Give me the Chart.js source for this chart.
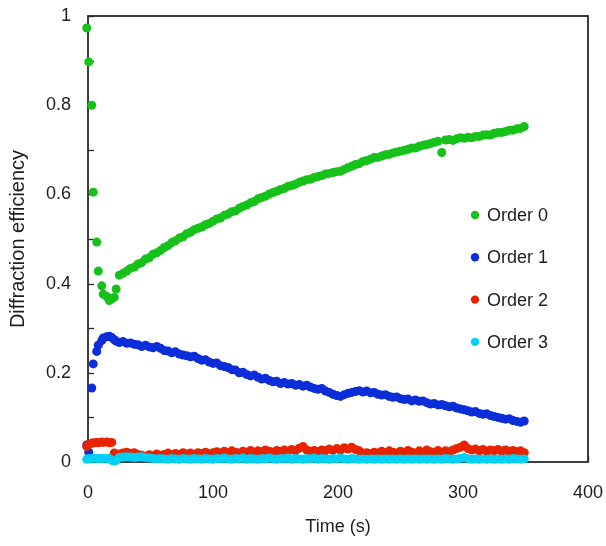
<!DOCTYPE html>
<html>
<head>
<meta charset="utf-8">
<script src="https://cdn.jsdelivr.net/npm/chart.js@4.4.1/dist/chart.umd.min.js"></script>
<style>
  html, body { margin: 0; padding: 0; background: #ffffff; }
  #wrap { width: 606px; height: 546px; position: relative; }
</style>
</head>
<body>
<div id="wrap"><canvas id="c" width="606" height="546"></canvas></div>
<script>
// ---- Data ----
const seriesNames = ["Order 0", "Order 1", "Order 2", "Order 3"];
const seriesColors = ["#16c21a", "#0b2ed8", "#e82400", "#00d0f4"];

// early, densely sampled times (s)
const earlyTime = [-1, 0.6, 3, 4.2, 7, 8.2, 11, 12.2, 15, 17, 19, 21, 22.5];
const order0Early = [0.973, 0.897, 0.800, 0.605, 0.493, 0.428, 0.395, 0.376, 0.371, 0.362, 0.366, 0.369, 0.388];
const order1Early = [0.038, 0.022, 0.166, 0.220, 0.248, 0.262, 0.272, 0.278, 0.281, 0.282, 0.279, 0.274, 0.271];
const order2Early = [0.035, 0.040, 0.042, 0.043, 0.044, 0.043, 0.045, 0.044, 0.045, 0.043, 0.044, 0.020, 0.018];
const order3Early = [0.006, 0.008, 0.008, 0.008, 0.008, 0.008, 0.008, 0.008, 0.008, 0.008, 0.004, 0.002, 0.003];

// main times (s)
const time = [
  25,28,31,34,37,40,43,46,49,52,
  55,58,61,64,67,70,73,76,79,82,
  85,88,91,94,97,100,103,106,109,112,
  115,118,121,124,127,130,133,136,139,142,
  145,148,151,154,157,160,163,166,169,172,
  175,178,181,184,187,190,193,196,199,202,
  205,208,211,214,217,220,223,226,229,232,
  235,238,241,244,247,250,253,256,259,262,
  265,268,271,274,277,280,283,286,289,292,
  295,298,301,304,307,310,313,316,319,322,
  325,328,331,334,337,340,343,346,349
];
const order0 = [
  0.419,0.423,0.428,0.434,0.437,0.444,0.447,0.455,0.458,0.466,
  0.469,0.474,0.481,0.485,0.492,0.496,0.502,0.505,0.512,0.515,
  0.521,0.524,0.527,0.532,0.535,0.540,0.545,0.547,0.553,0.556,
  0.561,0.563,0.569,0.573,0.576,0.581,0.584,0.590,0.593,0.596,
  0.601,0.604,0.607,0.611,0.613,0.618,0.620,0.623,0.627,0.630,
  0.633,0.634,0.638,0.640,0.642,0.646,0.647,0.649,0.651,0.652,
  0.656,0.660,0.663,0.667,0.669,0.674,0.676,0.679,0.683,0.683,
  0.686,0.689,0.690,0.693,0.695,0.697,0.699,0.701,0.704,0.704,
  0.708,0.710,0.712,0.714,0.717,0.719,0.694,0.722,0.723,0.721,
  0.725,0.727,0.726,0.728,0.727,0.730,0.730,0.733,0.734,0.733,
  0.737,0.739,0.739,0.741,0.744,0.744,0.747,0.748,0.752
];
const order1 = [
  0.268,0.270,0.266,0.267,0.264,0.263,0.259,0.262,0.258,0.256,
  0.259,0.255,0.250,0.249,0.245,0.247,0.242,0.240,0.238,0.236,
  0.237,0.232,0.228,0.229,0.224,0.221,0.222,0.216,0.214,0.212,
  0.207,0.206,0.200,0.201,0.196,0.193,0.195,0.190,0.186,0.188,
  0.183,0.180,0.181,0.176,0.178,0.175,0.176,0.172,0.174,0.170,
  0.172,0.168,0.165,0.163,0.165,0.159,0.156,0.152,0.149,0.147,
  0.151,0.154,0.156,0.158,0.160,0.157,0.159,0.155,0.156,0.152,
  0.150,0.151,0.147,0.145,0.146,0.142,0.140,0.141,0.137,0.139,
  0.136,0.137,0.133,0.130,0.131,0.128,0.129,0.126,0.124,0.125,
  0.121,0.119,0.117,0.115,0.112,0.113,0.109,0.107,0.108,0.104,
  0.102,0.100,0.098,0.096,0.097,0.093,0.091,0.089,0.092
];
const order2 = [
  0.018,0.020,0.022,0.019,0.021,0.017,0.015,0.013,0.016,0.014,
  0.018,0.015,0.017,0.020,0.016,0.019,0.017,0.021,0.018,0.020,
  0.017,0.021,0.019,0.022,0.018,0.021,0.023,0.020,0.024,0.021,
  0.025,0.022,0.020,0.024,0.021,0.026,0.022,0.025,0.023,0.027,
  0.024,0.022,0.026,0.023,0.027,0.024,0.028,0.025,0.031,0.035,
  0.027,0.024,0.026,0.023,0.027,0.025,0.029,0.026,0.030,0.027,
  0.032,0.029,0.033,0.028,0.025,0.020,0.021,0.019,0.022,0.020,
  0.024,0.021,0.025,0.022,0.020,0.024,0.021,0.026,0.022,0.020,
  0.025,0.022,0.027,0.023,0.021,0.026,0.022,0.025,0.023,0.027,
  0.030,0.033,0.038,0.030,0.027,0.029,0.025,0.028,0.024,0.027,
  0.025,0.028,0.024,0.027,0.024,0.026,0.023,0.025,0.021
];
const order3 = [
  0.010,0.011,0.012,0.011,0.010,0.011,0.012,0.010,0.009,0.008,
  0.007,0.008,0.007,0.006,0.008,0.007,0.006,0.008,0.007,0.006,
  0.008,0.007,0.006,0.008,0.007,0.006,0.008,0.007,0.009,0.007,
  0.006,0.008,0.007,0.009,0.006,0.008,0.007,0.006,0.008,0.007,
  0.009,0.007,0.006,0.008,0.007,0.009,0.006,0.008,0.007,0.006,
  0.008,0.007,0.009,0.006,0.008,0.007,0.006,0.008,0.007,0.009,
  0.007,0.006,0.008,0.007,0.006,0.007,0.006,0.007,0.006,0.007,
  0.006,0.007,0.006,0.007,0.006,0.007,0.006,0.007,0.006,0.007,
  0.006,0.007,0.006,0.007,0.006,0.007,0.006,0.008,0.007,0.006,
  0.007,0.008,0.010,0.007,0.006,0.007,0.006,0.007,0.006,0.007,
  0.006,0.007,0.006,0.007,0.006,0.008,0.007,0.006,0.007
];

const yTickMarks = [0, 0.1, 0.2, 0.3, 0.4, 0.5, 0.6, 0.7, 0.8, 0.9, 1];
const xTickMarks = [0, 100, 200, 300, 400];

// ---- Build datasets ----
function pts(tEarly, vEarly, t, v) {
  const out = [];
  tEarly.forEach((x, i) => out.push({ x: x, y: vEarly[i] }));
  t.forEach((x, i) => out.push({ x: x, y: v[i] }));
  return out;
}
const allValues = [
  [order0Early, order0],
  [order1Early, order1],
  [order2Early, order2],
  [order3Early, order3]
];
const datasets = allValues.map((pair, i) => ({
  label: seriesNames[i],
  data: pts(earlyTime, pair[0], time, pair[1]),
  backgroundColor: seriesColors[i],
  borderColor: seriesColors[i],
  borderWidth: 0,
  pointRadius: 4.5,
  pointHoverRadius: 4.5,
  showLine: false,
  clip: false,
  order: 4 - i
}));

const FONT = "'Liberation Sans', Arial, Helvetica, sans-serif";
Chart.defaults.font.family = FONT;
Chart.defaults.font.size = 18;
Chart.defaults.color = '#1e1e1e';

const framePlugin = {
  id: 'frame',
  beforeDatasetsDraw(chart) {
    const { ctx, chartArea: a, scales } = chart;
    const x = scales.x, y = scales.y;
    ctx.save();
    ctx.strokeStyle = '#2a2a2a';
    ctx.lineWidth = 1.3;
    yTickMarks.forEach(v => {
      const py = Math.round(y.getPixelForValue(v)) + 0.5;
      ctx.beginPath(); ctx.moveTo(a.left, py); ctx.lineTo(a.left + 6, py); ctx.stroke();
    });
    xTickMarks.forEach(v => {
      const px = Math.round(x.getPixelForValue(v)) + 0.5;
      ctx.beginPath(); ctx.moveTo(px, a.bottom); ctx.lineTo(px, a.bottom - 6); ctx.stroke();
    });
    ctx.lineWidth = 1.8;
    ctx.strokeRect(a.left, a.top, a.right - a.left, a.bottom - a.top);
    ctx.restore();
  }
};

const legendPlugin = {
  id: 'insideLegend',
  afterDraw(chart) {
    const { ctx, chartArea: a } = chart;
    ctx.save();
    ctx.font = '18px ' + FONT;
    ctx.textBaseline = 'middle';
    ctx.textAlign = 'left';
    chart.data.datasets.forEach((ds, i) => {
      const cy = a.top + 199 + i * 42.3;
      const cx = a.left + 387;
      ctx.fillStyle = ds.backgroundColor;
      ctx.beginPath(); ctx.arc(cx, cy, 4.2, 0, Math.PI * 2); ctx.fill();
      ctx.fillStyle = '#1e1e1e';
      ctx.fillText(ds.label, cx + 12, cy + 1);
    });
    ctx.restore();
  }
};

new Chart(document.getElementById('c'), {
  type: 'scatter',
  data: { datasets: datasets },
  options: {
    responsive: false,
    animation: false,
    devicePixelRatio: 1,
    layout: { padding: { top: 16, right: 18, bottom: 0, left: 0 } },
    plugins: {
      legend: { display: false },
      tooltip: { enabled: false }
    },
    scales: {
      x: {
        type: 'linear',
        min: 0, max: 400,
        grid: { display: false, drawTicks: false },
        border: { display: false },
        ticks: { stepSize: 100, padding: 20, color: '#1e1e1e', font: { size: 18 } },
        title: { display: true, text: 'Time (s)', color: '#1e1e1e', font: { size: 18 }, padding: { top: 6, bottom: 8 } },
        afterFit(s) { s.height = 84; s.paddingLeft = 0; s.paddingRight = 0; }
      },
      y: {
        type: 'linear',
        min: 0, max: 1,
        grid: { display: false, drawTicks: false },
        border: { display: false },
        ticks: {
          stepSize: 0.2, padding: 17, color: '#1e1e1e', font: { size: 18 },
          callback: v => String(Number(v.toFixed(1)))
        },
        title: { display: true, text: 'Diffraction efficiency', color: '#1e1e1e', font: { size: 20 }, padding: { top: 6, bottom: 10 } },
        afterFit(s) { s.width = 88; s.paddingTop = 0; s.paddingBottom = 0; }
      }
    }
  },
  plugins: [framePlugin, legendPlugin]
});
</script>
</body>
</html>
